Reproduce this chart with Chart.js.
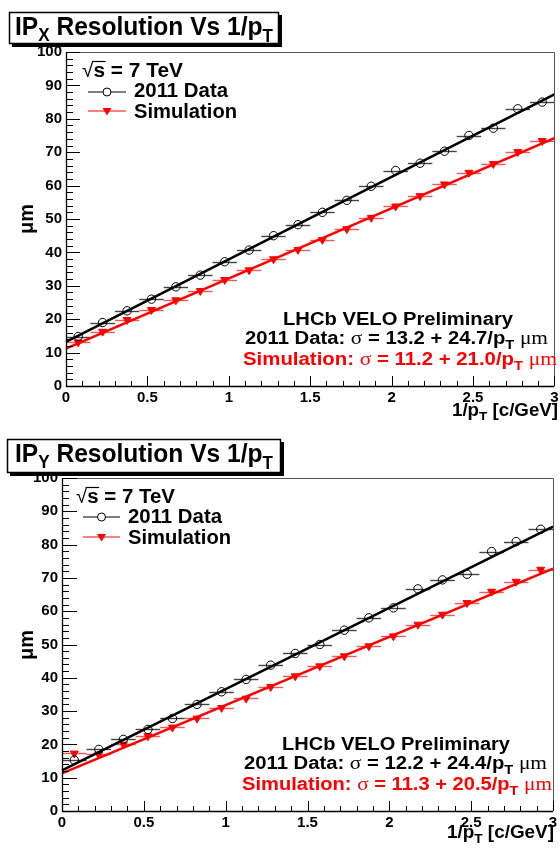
<!DOCTYPE html>
<html><head><meta charset="utf-8">
<script src="https://cdn.jsdelivr.net/npm/chart.js@4/dist/chart.umd.min.js"></script>
<style>
html,body{margin:0;padding:0;background:#fff;}
canvas{display:block;}
</style></head><body>
<canvas id="c1" width="560" height="420"></canvas>
<canvas id="c2" width="560" height="428"></canvas>
<script>
// ---------- data ----------
const xCenters = [0.075,0.225,0.375,0.525,0.675,0.825,0.975,1.125,1.275,1.425,1.575,1.725,1.875,2.025,2.175,2.325,2.475,2.625,2.775,2.925];
const xBinHalfWidth = 0.075;
const seriesNames = ['2011 Data','Simulation'];
const ipxData = [14.8,19.0,22.5,26.0,29.7,33.2,37.2,40.7,45.0,48.3,52.0,55.6,59.8,64.5,66.7,70.3,75.0,77.2,83.0,85.0];
const ipxSim  = [13.1,16.3,19.8,22.8,25.7,28.5,31.8,34.7,38.0,40.8,43.8,47.0,50.4,53.8,56.9,60.4,63.9,66.5,70.1,73.4];
const ipyData = [15.3,18.5,21.5,24.5,27.8,32.0,35.8,39.5,43.8,47.3,50.0,54.3,58.0,61.0,66.7,69.4,71.1,77.9,80.9,84.6];
const ipySim  = [17.3,17.0,20.0,22.5,25.1,27.8,31.0,33.8,37.3,40.5,43.5,46.5,49.5,52.5,56.0,59.0,62.5,65.9,68.9,72.5];
const fitX = [0, 3];
const ipxDataFit = [13.2, 87.3];
const ipxSimFit  = [11.2, 74.2];
const ipyDataFit = [12.2, 85.4];
const ipySimFit  = [11.3, 72.8];
const xTickValues = [0,0.5,1,1.5,2,2.5,3];
const xTickLabels = ['0','0.5','1','1.5','2','2.5','3'];
const yTickValues = [0,10,20,30,40,50,60,70,80,90,100];
const yTickLabels = ['0','10','20','30','40','50','60','70','80','90','100'];
const titleX = ['IP','X',' Resolution Vs 1/p','T'];
const titleY = ['IP','Y',' Resolution Vs 1/p','T'];
const energyParts = ['\u221A','s',' = 7 TeV'];
const prelimText = 'LHCb VELO Preliminary';
const fitTextX = [['2011 Data: ',' = 13.2 + 24.7/p'],['Simulation: ',' = 11.2 + 21.0/p']];
const fitTextY = [['2011 Data: ',' = 12.2 + 24.4/p'],['Simulation: ',' = 11.3 + 20.5/p']];
const yTitle = '\u03BCm';
const xTitle = ['1/p','T',' [c/GeV]'];

// ---------- helpers ----------
const SANS = '"Liberation Sans", Arial, Helvetica, sans-serif';
const SERIF = '"Liberation Serif", "DejaVu Serif", serif';
function rich(ctx, parts, x, y, target, color) {
  ctx.save();
  ctx.textAlign = 'left'; ctx.textBaseline = 'alphabetic';
  let w = 0;
  for (const p of parts) { ctx.font = p.f; w += ctx.measureText(p.t).width; }
  const sx = target ? target / w : 1;
  ctx.translate(x, y); ctx.scale(sx, 1);
  let cx = 0;
  const pos = [];
  for (const p of parts) {
    ctx.font = p.f; ctx.fillStyle = p.c || color || '#000';
    ctx.fillText(p.t, cx, p.dy || 0);
    const pw = ctx.measureText(p.t).width;
    pos.push([x + cx * sx, x + (cx + pw) * sx]);
    cx += pw;
  }
  ctx.restore();
  return pos;
}

function makePlugin(g) {
  return {
    id: 'panelDeco',
    beforeDatasetsDraw(chart) {
      const {ctx, scales: {x, y}} = chart;
      ctx.save();
      ctx.lineWidth = 1.4;
      [[g.data, '#444'], [g.sim, '#ee5a5a']].forEach(([vals, col]) => {
        ctx.strokeStyle = col;
        vals.forEach((v, i) => {
          const py = Math.round(y.getPixelForValue(v)) + 0.5;
          ctx.beginPath();
          ctx.moveTo(x.getPixelForValue(xCenters[i] - xBinHalfWidth), py);
          ctx.lineTo(x.getPixelForValue(xCenters[i] + xBinHalfWidth), py);
          ctx.stroke();
        });
      });
      ctx.restore();
    },
    afterDraw(chart) {
      const {ctx, scales: {x, y}, chartArea: a} = chart;
      const off = g.off;
      ctx.save();
      // frame
      ctx.lineWidth = 1;
      ctx.strokeStyle = '#555';
      ctx.beginPath();
      ctx.moveTo(a.left, Math.round(a.top) + 0.5); ctx.lineTo(Math.round(a.right) + 0.5, Math.round(a.top) + 0.5);
      ctx.lineTo(Math.round(a.right) + 0.5, a.bottom);
      ctx.stroke();
      ctx.strokeStyle = '#000';
      ctx.lineWidth = 1.3;
      ctx.beginPath();
      ctx.moveTo(Math.round(a.left) + 0.5, a.top); ctx.lineTo(Math.round(a.left) + 0.5, Math.round(a.bottom) + 0.5);
      ctx.lineTo(a.right, Math.round(a.bottom) + 0.5);
      ctx.stroke();
      // ticks (inside)
      ctx.lineWidth = 1;
      ctx.beginPath();
      for (let i = 0; i < yTickValues.length; i++) {
        const v = yTickValues[i];
        const py = Math.round(y.getPixelForValue(v)) + 0.5;
        ctx.moveTo(a.left, py); ctx.lineTo(a.left + g.yMaj, py);
        if (i < yTickValues.length - 1) {
          const step = (yTickValues[i + 1] - v) / 5;
          for (let k = 1; k < 5; k++) {
            const q = Math.round(y.getPixelForValue(v + k * step)) + 0.5;
            ctx.moveTo(a.left, q); ctx.lineTo(a.left + g.yMin, q);
          }
        }
      }
      for (let i = 0; i < xTickValues.length; i++) {
        const v = xTickValues[i];
        const px = Math.round(x.getPixelForValue(v)) + 0.5;
        ctx.moveTo(px, a.bottom); ctx.lineTo(px, a.bottom - g.xMaj);
        if (i < xTickValues.length - 1) {
          const step = (xTickValues[i + 1] - v) / 5;
          for (let k = 1; k < 5; k++) {
            const q = Math.round(x.getPixelForValue(v + k * step)) + 0.5;
            ctx.moveTo(q, a.bottom); ctx.lineTo(q, a.bottom - g.xMin);
          }
        }
      }
      ctx.stroke();

      ctx.translate(0, -off);
      // y title
      ctx.save();
      ctx.translate(g.yTitleX, g.yTitleY);
      ctx.rotate(-Math.PI / 2);
      ctx.font = 'bold 20px ' + SANS; ctx.fillStyle = '#000';
      ctx.textAlign = 'center'; ctx.textBaseline = 'alphabetic';
      ctx.fillText(yTitle, 0, 0);
      ctx.restore();
      // x title
      rich(ctx, [
        {t: xTitle[0], f: 'bold 18px ' + SANS},
        {t: xTitle[1], f: 'bold 13px ' + SANS, dy: 5},
        {t: xTitle[2], f: 'bold 18px ' + SANS}
      ], g.xt[0], g.xt[1], g.xt[2]);

      // legend
      ctx.lineWidth = 1;
      const ep = rich(ctx, [
        {t: energyParts[0], f: '20px ' + SANS},
        {t: energyParts[1], f: 'bold 20px ' + SANS},
        {t: energyParts[2], f: 'bold 20px ' + SANS}
      ], g.lg.ex, g.lg.ey, g.lg.ew);
      ctx.strokeStyle = '#000'; ctx.lineWidth = 1.2;
      ctx.beginPath();
      ctx.moveTo(ep[0][1] - 1.5, g.lg.ey - 15.5); ctx.lineTo(ep[1][1] + 0.5, g.lg.ey - 15.5);
      ctx.stroke();
      ctx.lineWidth = 1;
      // data sample
      ctx.strokeStyle = '#000';
      ctx.beginPath(); ctx.moveTo(g.lg.l0, g.lg.y1); ctx.lineTo(g.lg.l1, g.lg.y1); ctx.stroke();
      ctx.fillStyle = '#fff';
      ctx.beginPath(); ctx.arc((g.lg.l0 + g.lg.l1) / 2, g.lg.y1, 4, 0, Math.PI * 2); ctx.fill(); ctx.stroke();
      ctx.strokeStyle = '#f00';
      ctx.beginPath(); ctx.moveTo(g.lg.l0, g.lg.y2); ctx.lineTo(g.lg.l1, g.lg.y2); ctx.stroke();
      ctx.fillStyle = '#f00';
      const mx = (g.lg.l0 + g.lg.l1) / 2;
      ctx.beginPath(); ctx.moveTo(mx - 4.5, g.lg.y2 - 3); ctx.lineTo(mx + 4.5, g.lg.y2 - 3); ctx.lineTo(mx, g.lg.y2 + 4.5); ctx.closePath(); ctx.fill();
      rich(ctx, [{t: seriesNames[0], f: 'bold 20px ' + SANS}], g.lg.tx, g.lg.b1, g.lg.w1);
      rich(ctx, [{t: seriesNames[1], f: 'bold 20px ' + SANS}], g.lg.tx, g.lg.b2, g.lg.w2);

      // annotations
      rich(ctx, [{t: prelimText, f: 'bold 18px ' + SANS}], g.an[0][0], g.an[0][1], g.an[0][2]);
      [0, 1].forEach(j => {
        const col = j === 0 ? '#000' : '#f00';
        rich(ctx, [
          {t: g.ft[j][0], f: 'bold 18px ' + SANS},
          {t: '\u03C3', f: '19px ' + SERIF},
          {t: g.ft[j][1], f: 'bold 18px ' + SANS},
          {t: 'T', f: 'bold 13px ' + SANS, dy: 5},
          {t: ' ', f: 'bold 18px ' + SANS},
          {t: '\u03BCm', f: '19px ' + SERIF}
        ], g.an[j + 1][0], g.an[j + 1][1], g.an[j + 1][2], col);
      });

      // title box
      const b = g.box;
      ctx.fillStyle = '#000';
      ctx.fillRect(b[0] + 3, b[1] + 3, b[2] - b[0], b[3] - b[1]);
      ctx.fillStyle = '#fff';
      ctx.fillRect(b[0], b[1], b[2] - b[0], b[3] - b[1]);
      ctx.strokeStyle = '#000'; ctx.lineWidth = 1.5;
      ctx.strokeRect(b[0] + 0.5, b[1] + 0.5, b[2] - b[0] - 1, b[3] - b[1] - 1);
      rich(ctx, [
        {t: g.title[0], f: 'bold 26px ' + SANS},
        {t: g.title[1], f: 'bold 18px ' + SANS, dy: 6},
        {t: g.title[2], f: 'bold 26px ' + SANS},
        {t: g.title[3], f: 'bold 18px ' + SANS, dy: 7}
      ], g.tt[0], g.tt[1], g.tt[2]);
      ctx.restore();
    }
  };
}

function makePanel(id, g) {
  const pts = vals => xCenters.map((xv, i) => ({x: xv, y: vals[i]}));
  const line = vals => fitX.map((xv, i) => ({x: xv, y: vals[i]}));
  return new Chart(document.getElementById(id), {
    type: 'scatter',
    data: {
      datasets: [
        {label: seriesNames[0] + ' fit', type: 'line', data: line(g.dataFit), borderColor: '#000', borderWidth: 2.6, pointRadius: 0, fill: false, tension: 0, clip: false},
        {label: seriesNames[1] + ' fit', type: 'line', data: line(g.simFit), borderColor: '#f00', borderWidth: 2.6, pointRadius: 0, fill: false, tension: 0, clip: false},
        {label: seriesNames[0], data: pts(g.data), pointStyle: 'circle', pointRadius: 4.2, borderColor: '#000', borderWidth: 1, backgroundColor: 'rgba(255,255,255,0)', showLine: false},
        {label: seriesNames[1], data: pts(g.sim), pointStyle: 'triangle', rotation: 180, pointRadius: 4.6, borderColor: '#f00', borderWidth: 1, backgroundColor: '#f00', showLine: false}
      ]
    },
    options: {
      responsive: false, animation: false, events: [],
      layout: {padding: {top: g.top, right: g.right, left: 0, bottom: 0}},
      plugins: {legend: {display: false}, tooltip: {enabled: false}, title: {display: false}},
      scales: {
        x: {
          type: 'linear', min: 0, max: 3,
          afterBuildTicks: s => { s.ticks = xTickValues.map(v => ({value: v})); },
          afterFit: s => { s.height = g.xAxisH; s.paddingLeft = 0; s.paddingRight = 0; },
          ticks: {callback: (v, i) => xTickLabels[i], font: {family: SANS, size: 15, weight: 'bold'}, color: '#000', padding: 3, maxRotation: 0, autoSkip: false},
          grid: {display: false, drawTicks: false}, border: {display: false}
        },
        y: {
          type: 'linear', min: 0, max: 100,
          afterBuildTicks: s => { s.ticks = yTickValues.map(v => ({value: v})); },
          afterFit: s => { s.width = g.left; s.paddingTop = 0; s.paddingBottom = 0; },
          ticks: {callback: (v, i) => yTickLabels[i], font: {family: SANS, size: 15, weight: 'bold'}, color: '#000', padding: 4, autoSkip: false},
          grid: {display: false, drawTicks: false}, border: {display: false}
        }
      }
    },
    plugins: [makePlugin(g)]
  });
}

makePanel('c1', {
  off: 0, top: 52, right: 2.5, left: 66, xAxisH: 420 - 386,
  data: ipxData, sim: ipxSim, dataFit: ipxDataFit, simFit: ipxSimFit,
  yMaj: 14, yMin: 7, xMaj: 10, xMin: 5,
  yTitleX: 33, yTitleY: 219,
  xt: [452, 416, 106],
  lg: {ex: 82, ey: 77, ew: 101, l0: 88, l1: 126, y1: 92, y2: 111, tx: 134, b1: 97, b2: 118, w1: 94, w2: 103},
  an: [[283, 325, 230], [245, 344, 303], [243, 365, 314]],
  ft: fitTextX,
  box: [9, 12, 279, 44], title: titleX, tt: [15, 35, 258]
});
makePanel('c2', {
  off: 420, top: 58, right: 7, left: 62, xAxisH: 428 - 391,
  data: ipyData, sim: ipySim, dataFit: ipyDataFit, simFit: ipySimFit,
  yMaj: 15, yMin: 7, xMaj: 10, xMin: 5,
  yTitleX: 33, yTitleY: 645,
  xt: [447, 838, 107],
  lg: {ex: 76, ey: 503, ew: 99, l0: 83, l1: 120, y1: 517, y2: 537, tx: 128, b1: 523, b2: 544, w1: 94, w2: 103},
  an: [[282, 750, 228], [244, 769, 303], [242, 790, 310]],
  ft: fitTextY,
  box: [7, 439, 281, 473], title: titleY, tt: [15, 462, 258]
});
</script>
</body></html>
